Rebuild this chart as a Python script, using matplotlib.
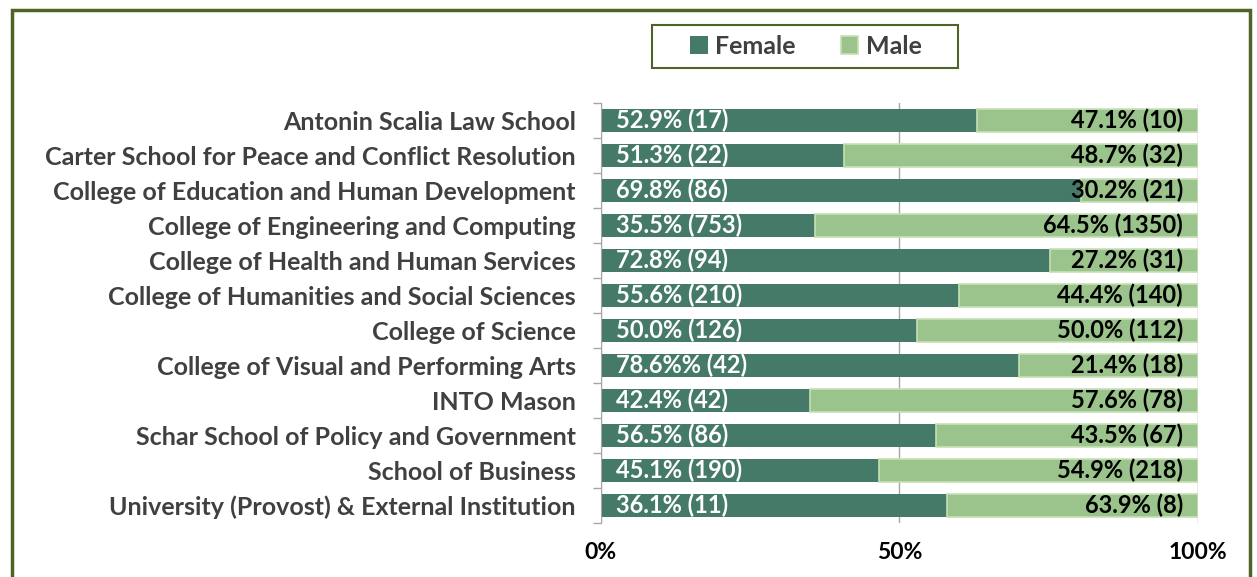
import matplotlib.pyplot as plt
import matplotlib.patches as mpatches
import numpy as np

plt.rcParams['font.family'] = ['Lato', 'DejaVu Sans']

schools = ['Antonin Scalia Law School',
           'Carter School for Peace and Conflict Resolution',
           'College of Education and Human Development',
           'College of Engineering and Computing',
           'College of Health and Human Services',
           'College of Humanities and Social Sciences',
           'College of Science',
           'College of Visual and Performing Arts',
           'INTO Mason',
           'Schar School of Policy and Government',
           'School of Business',
           'University (Provost) & External Institution']
female_n = [17, 22, 86, 753, 94, 210, 126, 42, 42, 86, 190, 11]
male_n = [10, 32, 21, 1350, 31, 140, 112, 18, 78, 67, 218, 8]
female_pct = ['52.9%', '51.3%', '69.8%', '35.5%', '72.8%', '55.6%', '50.0%', '78.6%%', '42.4%', '56.5%', '45.1%', '36.1%']
male_pct = ['47.1%', '48.7%', '30.2%', '64.5%', '27.2%', '44.4%', '50.0%', '21.4%', '57.6%', '43.5%', '54.9%', '63.9%']

female_c = '#457a68'
male_c = '#9bc38c'
border_c = '#4f6228'

f = np.array(female_n, float)
m = np.array(male_n, float)
tot = f + m
fw = f / tot
mw = m / tot

fig = plt.figure(figsize=(12.57, 5.77), dpi=100)
ax = fig.add_axes([0.478, 0.0936, 0.475, 0.728])

y = np.arange(len(schools))
ax.barh(y, fw, height=0.64, color=female_c, label='Female', zorder=2)
ax.barh(y, mw, left=fw, height=0.64, color=male_c, edgecolor='#c5e0b4',
        linewidth=1.2, label='Male', zorder=2)

for i in range(len(schools)):
    ax.text(0.025, y[i], '%s (%d)' % (female_pct[i], female_n[i]), color='white',
            fontsize=17, fontweight='bold', va='center', ha='left', zorder=3)
    ax.text(0.975, y[i], '%s (%d)' % (male_pct[i], male_n[i]), color='black',
            fontsize=17, fontweight='bold', va='center', ha='right', zorder=3)

ax.set_xlim(0, 1)
ax.set_ylim(len(schools) - 0.5, -0.5)
ax.set_xticks([0, 0.5, 1.0])
ax.set_xticklabels(['0%', '50%', '100%'], fontsize=16.5, fontweight='bold')
ax.tick_params(axis='x', length=0, pad=14)
ax.set_yticks(y)
ax.set_yticklabels(schools, fontsize=18, fontweight='bold', color='#404040')
ax.tick_params(axis='y', which='major', length=0, pad=18)
ax.set_yticks(np.arange(-0.5, len(schools)), minor=True)
ax.tick_params(axis='y', which='minor', length=6, color='#a6a6a6', width=1)
ax.grid(axis='x', color='#a6a6a6', linewidth=1, zorder=0)
for s in ['top', 'right', 'bottom']:
    ax.spines[s].set_visible(False)
ax.spines['left'].set_color('#a6a6a6')

leg = fig.legend(loc='center', bbox_to_anchor=(0.641, 0.92), ncol=2,
                 prop={'size': 18, 'weight': 'bold'}, frameon=False,
                 handlelength=0.7, handleheight=0.7,
                 columnspacing=1.8, handletextpad=0.3, borderpad=0.4,
                 borderaxespad=0)
for t in leg.get_texts():
    t.set_color('#404040')

# legend box, wider than the entries like in the original
fig.patches.append(mpatches.Rectangle((652 / 1257, 1 - 68 / 577), 306 / 1257, 43 / 577,
                                      transform=fig.transFigure, fill=False,
                                      edgecolor=border_c, linewidth=1.5))
# outer chart border
fig.patches.append(mpatches.Rectangle((12 / 1257, -0.1), 1238 / 1257, 1.1 - 10 / 577,
                                      transform=fig.transFigure, fill=False,
                                      edgecolor=border_c, linewidth=2.5))

plt.savefig('out.png', dpi=100)
